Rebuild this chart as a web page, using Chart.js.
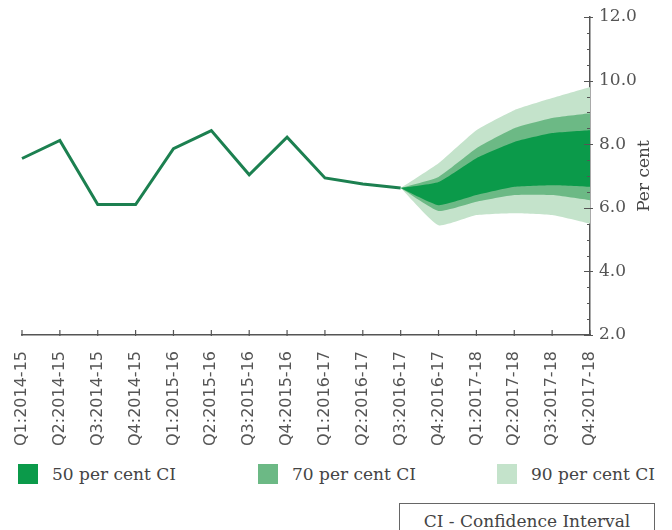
<!DOCTYPE html>
<html>
<head>
<meta charset="utf-8">
<script src="https://cdn.jsdelivr.net/npm/chart.js@4.4.0/dist/chart.umd.min.js"></script>
<style>
  body { margin: 0; background: #fff; }
  #wrap { position: relative; width: 672px; height: 530px; overflow: hidden; background: #fff; }
  #cv { position: absolute; left: 0; top: 0; }
  .lg { position: absolute; top: 464px; height: 20px; font: 17px 'DejaVu Serif', serif; color: #444; line-height: 20px; }
  .lg span.box { position: absolute; left: 0; top: 0; width: 20px; height: 20px; }
  .lg span.txt { position: absolute; left: 34px; top: 0; white-space: nowrap; }
  #ci { position: absolute; left: 399px; top: 503px; width: 254px; height: 40px; border: 1.5px solid #666;
        font: 17px 'DejaVu Serif', serif; color: #444; text-align: center; line-height: 34px; }
</style>
</head>
<body>
<div id="wrap">
  <canvas id="cv" width="672" height="450"></canvas>
  <div class="lg" style="left:18px"><span class="box" style="background:#0b9a4a"></span><span class="txt">50 per cent CI</span></div>
  <div class="lg" style="left:258px"><span class="box" style="background:#6cb985"></span><span class="txt">70 per cent CI</span></div>
  <div class="lg" style="left:497px"><span class="box" style="background:#c4e3cb"></span><span class="txt">90 per cent CI</span></div>
  <div id="ci">CI - Confidence Interval</div>
</div>
<script>
  const quarters = ['Q1:2014-15', 'Q2:2014-15', 'Q3:2014-15', 'Q4:2014-15',
                    'Q1:2015-16', 'Q2:2015-16', 'Q3:2015-16', 'Q4:2015-16',
                    'Q1:2016-17', 'Q2:2016-17', 'Q3:2016-17', 'Q4:2016-17',
                    'Q1:2017-18', 'Q2:2017-18', 'Q3:2017-18', 'Q4:2017-18'];

  // actual growth
  const actual = [7.55, 8.12, 6.1, 6.1, 7.86, 8.43, 7.04, 8.22, 6.94, 6.75, 6.62, null, null, null, null, null];

  // fan chart bands
  const upper90 = [null, null, null, null, null, null, null, null, null, null, 6.62, 7.4, 8.44, 9.07, 9.45, 9.8];
  const upper70 = [null, null, null, null, null, null, null, null, null, null, 6.62, 6.97, 7.87, 8.5, 8.82, 8.97];
  const upper50 = [null, null, null, null, null, null, null, null, null, null, 6.62, 6.81, 7.56, 8.07, 8.35, 8.44];
  const lower50 = [null, null, null, null, null, null, null, null, null, null, 6.62, 6.08, 6.4, 6.66, 6.71, 6.66];
  const lower70 = [null, null, null, null, null, null, null, null, null, null, 6.62, 5.9, 6.19, 6.4, 6.4, 6.24];
  const lower90 = [null, null, null, null, null, null, null, null, null, null, 6.62, 5.45, 5.77, 5.83, 5.77, 5.5];

  const yMin = 2, yMax = 12, yStep = 2;

  const dark = '#0b9a4a', mid = '#6cb985', light = '#c4e3cb';
  const axisColor = '#555';

  function band(data, fill, color) {
    return {
      data: data,
      fill: fill,
      backgroundColor: color,
      borderWidth: 0,
      pointRadius: 0,
      tension: 0.15
    };
  }

  // tick marks crossing the axes and the rotated axis title
  const axisMarks = {
    id: 'axisMarks',
    afterDraw(chart) {
      const ctx = chart.ctx;
      const x = chart.scales.x, y = chart.scales.y;
      const area = chart.chartArea;
      ctx.save();
      ctx.strokeStyle = axisColor;
      ctx.lineWidth = 1.2;
      ctx.beginPath();
      for (let i = 0; i < quarters.length; i++) {
        const px = x.getPixelForTick(i);
        ctx.moveTo(px, area.bottom - 5);
        ctx.lineTo(px, area.bottom + 1);
      }
      for (let v = yMin; v <= yMax + 0.001; v += 0.5) {
        const py = Math.round(y.getPixelForValue(v)) + 0.5;
        if (v % 2 === 0) {
          ctx.moveTo(area.right - 6, py);
          ctx.lineTo(area.right + 3, py);
        } else {
          ctx.moveTo(area.right - 3, py);
          ctx.lineTo(area.right, py);
        }
      }
      ctx.stroke();

      ctx.translate(645, (area.top + area.bottom) / 2);
      ctx.rotate(-Math.PI / 2);
      ctx.fillStyle = '#444';
      ctx.font = "17px 'DejaVu Serif'";
      ctx.textAlign = 'center';
      ctx.textBaseline = 'middle';
      ctx.fillText('Per cent', 0, 0);
      ctx.restore();
    }
  };

  new Chart(document.getElementById('cv'), {
    type: 'line',
    data: {
      labels: quarters,
      datasets: [
        {
          data: actual,
          borderColor: '#1c8050',
          borderWidth: 3,
          pointRadius: 0,
          fill: false,
          tension: 0
        },
        band(upper50, '+1', dark),
        band(lower50, false, dark),
        band(upper70, '+1', mid),
        band(lower70, false, mid),
        band(upper90, '+1', light),
        band(lower90, false, light)
      ]
    },
    options: {
      responsive: false,
      animation: false,
      layout: { padding: { top: 17, left: 22, right: 0, bottom: 0 } },
      plugins: {
        legend: { display: false },
        tooltip: { enabled: false }
      },
      scales: {
        x: {
          offset: false,
          grid: { display: false },
          border: { display: true, color: axisColor, width: 1.5 },
          ticks: {
            minRotation: 90,
            maxRotation: 90,
            autoSkip: false,
            padding: 8,
            color: '#555',
            font: { family: 'DejaVu Sans', size: 16 }
          },
          afterFit(scale) { scale.height = 115; }
        },
        y: {
          position: 'right',
          min: yMin,
          max: yMax,
          grid: { display: false },
          border: { display: true, color: axisColor, width: 1.5 },
          ticks: {
            stepSize: yStep,
            padding: 1,
            color: '#555',
            font: { family: 'DejaVu Serif', size: 17 },
            callback: v => v.toFixed(1)
          },
          afterFit(scale) { scale.width = 82; }
        }
      }
    },
    plugins: [axisMarks]
  });
</script>
</body>
</html>
